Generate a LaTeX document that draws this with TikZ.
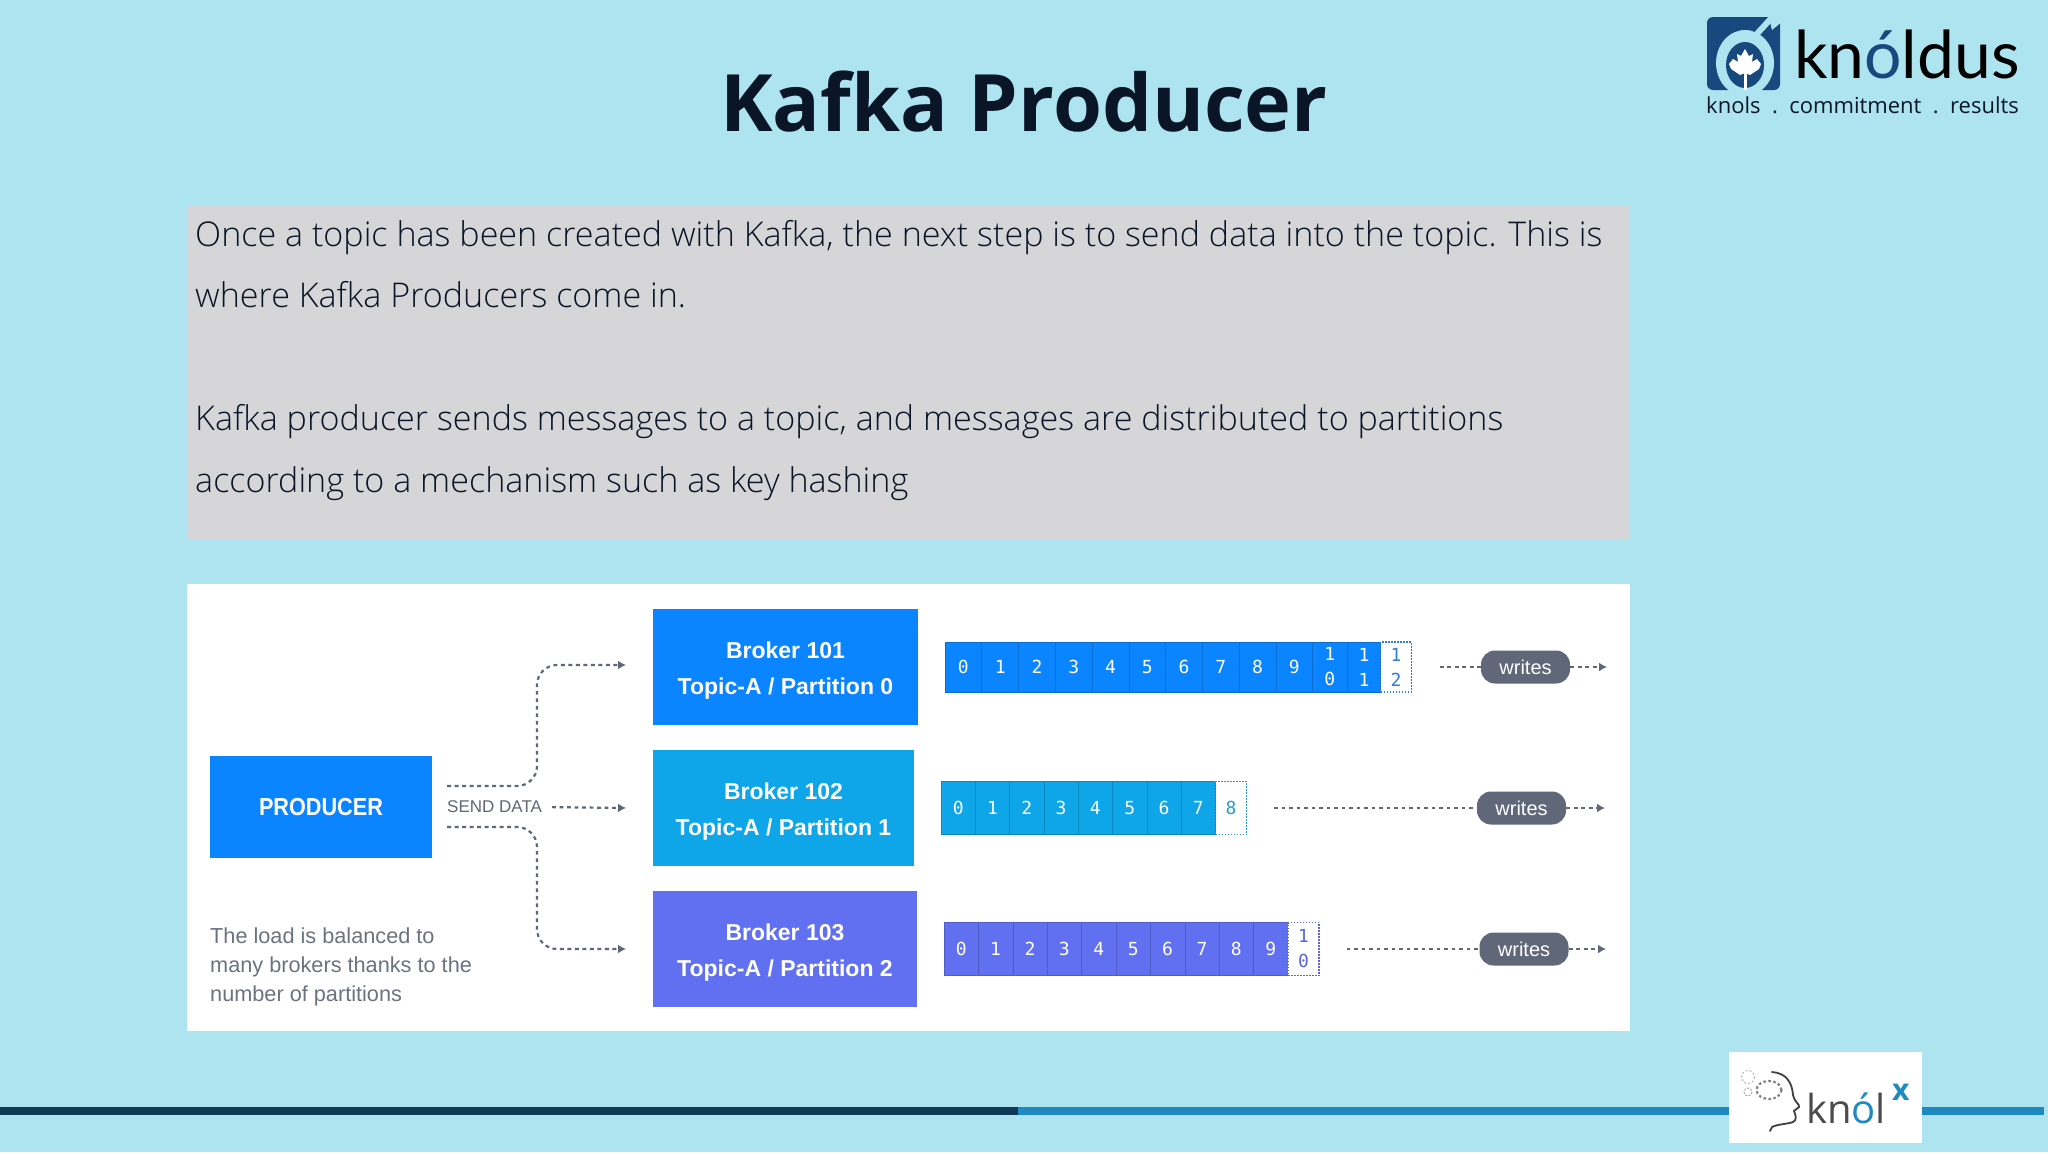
\documentclass[tikz,border=0pt]{standalone}
\usepackage{fontspec}
\usetikzlibrary{arrows.meta}
\setmainfont{Open Sans}
\newfontfamily\LightFont{Open Sans Light}
\newfontfamily\DiagFont{Liberation Sans}
\newfontfamily\TightFont{Liberation Sans}[FakeStretch=0.88]
\newfontfamily\DigitFont{DejaVu Sans Mono}
\newfontfamily\LogoFont{Lato}
\definecolor{Sky}{HTML}{ADE4F0}
\definecolor{Panel}{HTML}{D6D6D8}
\definecolor{Ink}{HTML}{0A1628}
\definecolor{RowA}{HTML}{0A84FF}
\definecolor{RowB}{HTML}{0EA5E9}
\definecolor{RowC}{HTML}{6170F0}
\definecolor{GhostA}{HTML}{2F7BD6}
\definecolor{GhostB}{HTML}{2A9BD0}
\definecolor{GhostC}{HTML}{5A66D8}
\definecolor{Slate}{HTML}{5F6779}
\definecolor{Note}{HTML}{6B7280}
\definecolor{Mark}{HTML}{17497F}
\definecolor{RuleA}{HTML}{0E3A55}
\definecolor{RuleB}{HTML}{1F8AC2}
\newcommand{\BrokerLift}{\rule{0pt}{24pt}}
\tikzset{
    Broker/.style={minimum width=262pt, minimum height=116pt, inner sep=0pt, align=center, text=white,
        font=\DiagFont\bfseries\fontsize{23}{36.5}\selectfont},
    Cell/.style={draw=#1!82!black, line width=0.6pt, fill=#1, text=white, inner sep=0pt, align=center,
        font=\DigitFont\fontsize{18}{25}\selectfont},
    Ghost/.style={draw=#1, dash pattern=on 1.5pt off 1.5pt, line width=1.2pt, fill=white, text=#1, inner sep=0pt, align=center,
        font=\DigitFont\fontsize{18}{25}\selectfont},
    Pill/.style={fill=Slate, rounded corners=14pt, minimum width=89pt, minimum height=33pt, inner sep=0pt, text=white,
        font=\DiagFont\fontsize{20}{24}\selectfont},
    Flow/.style={draw=Slate, line width=2.2pt, dash pattern=on 3.8pt off 3.7pt, rounded corners=20pt},
    FlowTip/.style={Flow, -{Latex[length=8pt,width=9pt]}},
    Hint/.style={anchor=west, inner sep=0pt, text=Note, font=\DiagFont\fontsize{21.7}{29}\selectfont, align=left}
}
\begin{document}
\begin{tikzpicture}[x=1pt,y=-1pt]
    \useasboundingbox[fill=Sky] (0,0) rectangle (2048,1152);

    \node[font=\bfseries\fontsize{79.2}{90}\selectfont, text=Ink] (Title) at (1024,102) {Kafka Producer};

    % top logo
    \fill[Mark, rounded corners=6pt] (1707,17) rectangle (1780,90);
    \begin{scope}
        \clip (1707,17) rectangle (1780,90);
        \fill[Sky] (1745,63) ellipse (29 and 33);
        \fill[Mark] (1745,65) ellipse (19 and 23);
        \fill[white] (1743.5,70) rectangle (1746.5,90);
    \end{scope}
    \draw[Sky, line width=6pt] (1755,36) -- (1776,13);
    \fill[Sky] (1768,14) -- (1783,14) -- (1783,21) -- (1772,30) -- cycle;
    \fill[white] (1745,49) -- (1749,56) -- (1753,54) -- (1752,62) -- (1757,59) -- (1761,64) -- (1759,69)
        -- (1750,75) -- (1745,73) -- (1740,75) -- (1731,69) -- (1729,64) -- (1733,59) -- (1738,62) -- (1737,54) -- (1741,56) -- cycle;
    \node[anchor=base west, inner sep=0pt, text=black, font=\LogoFont\fontsize{66}{66}\selectfont] (Brand) at (1794,78)
        {kn\textcolor{Mark}{ó}ldus};
    \node[anchor=base west, inner sep=0pt, text=Ink, font=\fontsize{22}{26}\selectfont] (Motto) at (1706,113)
        {knols\ \ .\ \ commitment\ \ .\ \ results};

    % text panel
    \node[fill=Panel, anchor=north west, minimum width=1443pt, minimum height=334pt, inner sep=0pt] (TextBox) at (187,205) {};
    \node[anchor=north west, inner sep=0pt, align=left, text=Ink, font=\LightFont\fontsize{34.1}{61.5}\selectfont] (Body) at (195,220) {%
        Once a topic has been created with Kafka, the next step is to send data into the topic. This is\\
        where Kafka Producers come in.\\
        ~\\
        Kafka producer sends messages to a topic, and messages are distributed to partitions\\
        according to a mechanism such as key hashing};

    % diagram panel
    \node[fill=white, anchor=north west, minimum width=1443pt, minimum height=447pt, inner sep=0pt] (Sheet) at (187,584) {};

    \node[fill=RowA, minimum width=222pt, minimum height=102pt, inner sep=0pt, text=white,
        font=\TightFont\bfseries\fontsize{24.6}{28}\selectfont] (Producer) at (321,807) {PRODUCER};
    \node[Hint] (Load) at (210,966.5) {The load is balanced to\\many brokers thanks to the\\number of partitions};
    \node[anchor=west, inner sep=0pt, text=Slate, font=\DiagFont\fontsize{17}{20}\selectfont] (Send) at (447,807) {SEND DATA};

    \node[Broker, fill=RowA, minimum width=265pt] (B1) at (785.5,667) {\BrokerLift Broker 101\\Topic-A / Partition 0};
    \node[Broker, fill=RowB, minimum width=261pt] (B2) at (783.5,808) {\BrokerLift Broker 102\\Topic-A / Partition 1};
    \node[Broker, fill=RowC, minimum width=264pt] (B3) at (785,949) {\BrokerLift Broker 103\\Topic-A / Partition 2};

    \coordinate (In1) at (626,665);
    \coordinate (In2) at (626,808);
    \coordinate (In3) at (626,949);
    \draw[FlowTip, shorten <=15pt] (Producer.east |- 0,786) -- (537,786) -- (537,665) -- (In1);
    \draw[FlowTip, shorten <=10pt] (Send.east) -- (In2);
    \draw[FlowTip, shorten <=15pt] (Producer.east |- 0,827) -- (537,827) -- (537,949) -- (In3);

    % partition 0
    \foreach \x in {0,...,9}
        \node[Cell=RowA, minimum width=36.76pt, minimum height=50pt] (A\x) at (963.4+\x*36.76,667) {\x};
    \node[Cell=RowA, minimum width=34.5pt, minimum height=50pt] (A10) at (1329.9,667) {1\\0};
    \node[Cell=RowA, minimum width=33.5pt, minimum height=50pt] (A11) at (1364,667) {1\\1};
    \node[Ghost=GhostA, minimum width=30.5pt, minimum height=50pt] (A12) at (1396,667) {1\\2};
    \node[Pill] (W1) at (1525.5,667) {writes};
    \coordinate (E1) at (1607,667);
    \draw[Flow, shorten <=28pt] (A12.east) -- (W1.west);
    \draw[FlowTip] (W1.east) -- (E1);

    % partition 1
    \foreach \x in {0,...,7}
        \node[Cell=RowB, minimum width=34.3pt, minimum height=53pt] (C\x) at (958.2+\x*34.3,808) {\x};
    \node[Ghost=GhostB, minimum width=31pt, minimum height=53pt] (C8) at (1231,808) {8};
    \node[Pill] (W2) at (1521.5,808) {writes};
    \coordinate (E2) at (1605,808);
    \draw[Flow, shorten <=27pt] (C8.east) -- (W2.west);
    \draw[FlowTip] (W2.east) -- (E2);

    % partition 2
    \foreach \x in {0,...,9}
        \node[Cell=RowC, minimum width=34.4pt, minimum height=53pt] (D\x) at (961.2+\x*34.4,949) {\x};
    \node[Ghost=GhostC, minimum width=31pt, minimum height=53pt] (D10) at (1303.5,949) {1\\0};
    \node[Pill] (W3) at (1524,949) {writes};
    \coordinate (E3) at (1606,949);
    \draw[Flow, shorten <=27pt] (D10.east) -- (W3.west);
    \draw[FlowTip] (W3.east) -- (E3);

    % bottom rule
    \fill[RuleA] (0,1106.5) rectangle (1018,1115);
    \fill[RuleB] (1018,1106.5) rectangle (2044,1115);

    % bottom logo
    \node[fill=white, anchor=north west, minimum width=193pt, minimum height=91pt, inner sep=0pt] (Badge) at (1729,1052) {};
    \draw[black!75, line width=1.8pt, line cap=round] (1772,1072) .. controls (1786,1073) and (1792,1082) .. (1793,1095)
        .. controls (1794,1102) and (1800,1104) .. (1799,1107) -- (1794,1111) .. controls (1796,1116) and (1797,1120) .. (1793,1122)
        .. controls (1788,1124) and (1778,1124) .. (1772,1127) -- (1770,1131);
    \draw[gray, line width=2.2pt, dash pattern=on 2.5pt off 2.5pt] (1769,1090) ellipse (12.5 and 9);
    \draw[gray!60, line width=1pt, dash pattern=on 2pt off 2pt] (1748,1077) circle (6.5);
    \draw[gray!70, line width=1pt, dash pattern=on 2pt off 1.5pt] (1748,1092) circle (4);
    \node[anchor=base west, inner sep=0pt, text=black!70, font=\fontsize{40}{40}\selectfont] (KnolText) at (1806,1123)
        {kn\textcolor{RuleB}{ó}l};
    \node[anchor=base west, inner sep=0pt, text=RuleB, font=\bfseries\fontsize{30}{30}\selectfont] (KnolX) at (1892,1100) {x};
\end{tikzpicture}
\end{document}
